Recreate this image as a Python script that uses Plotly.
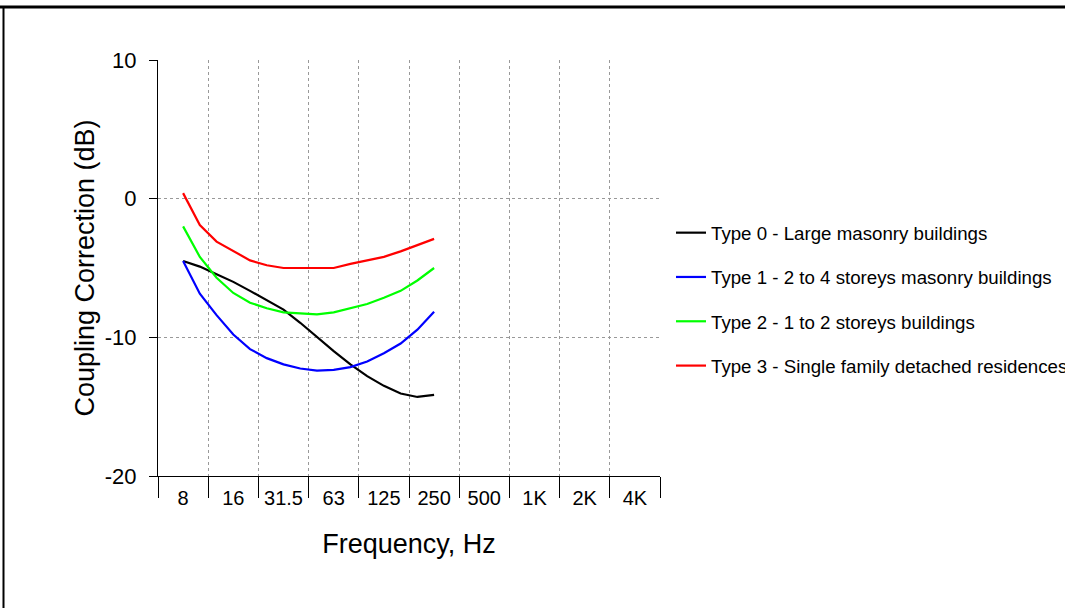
import plotly.graph_objects as go

# Octave band labels on the x axis (one band each)
band_labels = ["8", "16", "31.5", "63", "125", "250", "500", "1K", "2K", "4K"]

# 1/3-octave frequencies where the curves are defined (8 Hz .. 250 Hz)
third_octave_hz = [8, 10, 12.5, 16, 20, 25, 31.5, 40, 50, 63, 80, 100, 125, 160, 200, 250]
# position of each 1/3-octave point in band units (band index of 8 Hz = 0)
third_octave_pos = [i / 3 for i in range(len(third_octave_hz))]

type0 = [-4.5, -4.9, -5.45, -6.0, -6.65, -7.3, -8.0, -8.95, -10.0, -11.0, -11.95, -12.8, -13.5, -14.05, -14.3, -14.15]
type1 = [-4.5, -6.85, -8.4, -9.8, -10.85, -11.5, -11.95, -12.25, -12.4, -12.35, -12.15, -11.75, -11.15, -10.45, -9.45, -8.15]
type2 = [-2.0, -4.2, -5.7, -6.8, -7.5, -7.9, -8.2, -8.3, -8.35, -8.2, -7.9, -7.6, -7.15, -6.65, -5.9, -5.0]
type3 = [0.4, -1.9, -3.1, -3.75, -4.45, -4.8, -5.0, -5.0, -5.0, -5.0, -4.7, -4.45, -4.2, -3.8, -3.35, -2.9]

series_names = [
    "Type 0 - Large masonry buildings",
    "Type 1 - 2 to 4 storeys masonry buildings",
    "Type 2 - 1 to 2 storeys buildings",
    "Type 3 - Single family detached residences",
]
series_values = [type0, type1, type2, type3]
series_colors = ["#000000", "#0000ff", "#00ff00", "#ff0000"]

y_ticks = [-20, -10, 0, 10]
y_tick_text = ["-20", "-10", "0", "10"]

FONT = "Arial, Liberation Sans, Helvetica, sans-serif"

fig = go.Figure()
for i, (name, vals, col) in enumerate(zip(series_names, series_values, series_colors)):
    fig.add_trace(go.Scatter(
        x=third_octave_pos, y=vals, mode="lines", name=name,
        line=dict(color=col, width=2.2), legendgroup=f"g{i}",
    ))

n = len(band_labels)
boundaries = [k - 0.5 for k in range(n + 1)]

W, H = 1065, 608
L, R, T, B = 158, 405, 60, 132
pw, ph = W - L - R, H - T - B

GRID = "#999999"

fig.update_layout(
    width=W, height=H,
    margin=dict(l=L, r=R, t=T, b=B, autoexpand=False),
    paper_bgcolor="white", plot_bgcolor="white",
    font=dict(family=FONT, color="black"),
    showlegend=True,
    legend=dict(
        x=(671 - L) / pw, y=(H - B - 214) / ph, xanchor="left", yanchor="top",
        font=dict(size=18.7, family=FONT, color="black"),
        tracegroupgap=17, bgcolor="rgba(0,0,0,0)", borderwidth=0,
    ),
    xaxis=dict(
        range=[-0.5, n - 0.5],
        tickmode="array", tickvals=list(range(n)), ticktext=band_labels,
        ticks="", showgrid=False, zeroline=False,
        showline=True, linecolor="black", linewidth=1,
        tickfont=dict(size=20, family=FONT, color="black"),
        ticklabelstandoff=4,
        minor=dict(tickmode="array", tickvals=boundaries, ticks="outside",
                   ticklen=21, tickcolor="black", tickwidth=1,
                   showgrid=True, gridcolor=GRID, gridwidth=1, griddash="dot"),
        title=dict(text="Frequency, Hz", font=dict(size=27, family=FONT, color="black"), standoff=26),
    ),
    yaxis=dict(
        range=[-20, 10], tickmode="array", tickvals=y_ticks, ticktext=y_tick_text,
        ticks="outside", ticklen=8, tickcolor="black",
        showgrid=True, gridcolor=GRID, gridwidth=1, griddash="dot",
        zeroline=False, showline=True, linecolor="black", linewidth=1,
        tickfont=dict(size=22, family=FONT, color="black"),
        ticklabelstandoff=8,
        title=dict(text="Coupling Correction (dB)", font=dict(size=27, family=FONT, color="black"), standoff=2),
    ),
)

# outer frame (top thick line, left thin line) as seen in the reference
def px_x(p):
    return (p - L) / pw

def px_y(p):
    return (H - B - p) / ph

fig.add_shape(type="line", xref="paper", yref="paper",
              x0=px_x(0), x1=px_x(W + 5), y0=px_y(7), y1=px_y(7),
              line=dict(color="black", width=3))
fig.add_shape(type="line", xref="paper", yref="paper",
              x0=px_x(3.5), x1=px_x(3.5), y0=px_y(6), y1=px_y(H + 5),
              line=dict(color="black", width=2))

fig.write_html("out.html", config={"displayModeBar": False},
               post_script="document.body.style.margin='0px';")
